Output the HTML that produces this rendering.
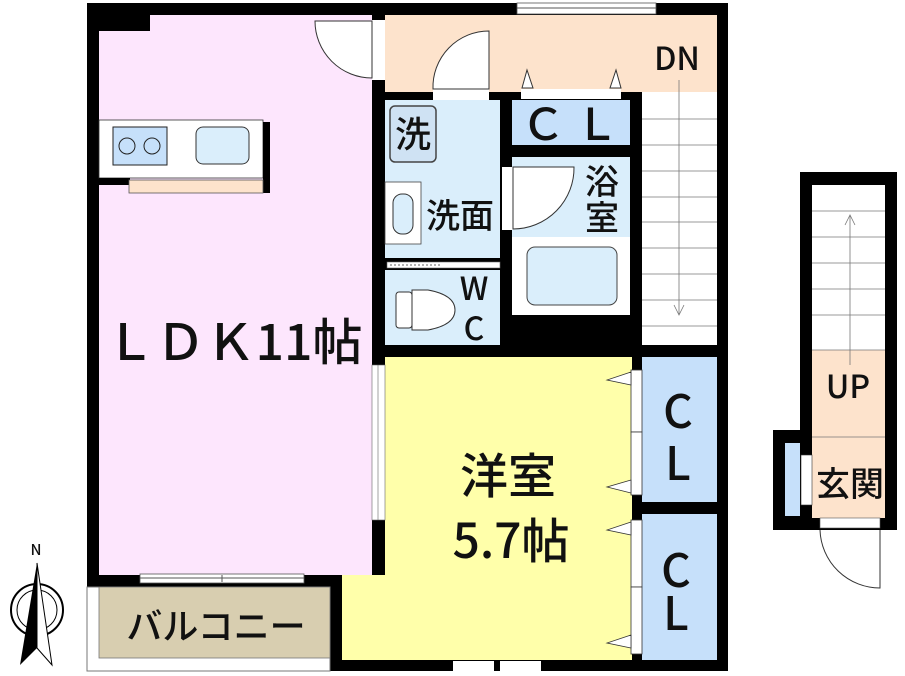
<!DOCTYPE html>
<html><head><meta charset="utf-8"><style>
html,body{margin:0;padding:0;background:#fff;width:905px;height:676px;overflow:hidden}
text{font-family:"Noto Sans CJK JP","Liberation Sans",sans-serif;fill:#111;font-weight:500}
</style></head><body>
<svg width="905" height="676" viewBox="0 0 905 676" xmlns="http://www.w3.org/2000/svg">
<rect x="87" y="3" width="641" height="584" fill="#000"/>
<rect x="330" y="575" width="398" height="96" fill="#000"/>
<rect x="99" y="15" width="273" height="560" fill="#fde6fd"/>
<rect x="99" y="15" width="51" height="16" fill="#000"/>
<rect x="99" y="120" width="164" height="58" fill="#fff" stroke="#333" stroke-width="0.8"/>
<rect x="263" y="122" width="7" height="71" fill="#000"/>
<rect x="99" y="178" width="31" height="7" fill="#000"/>
<rect x="129" y="180" width="134" height="13" fill="#fde3cc" stroke="#555" stroke-width="0.8"/>
<rect x="113" y="127" width="54" height="38" fill="#c6e0fa" stroke="#222"/>
<circle cx="127" cy="146" r="8" fill="none" stroke="#222"/>
<circle cx="152" cy="146" r="8" fill="none" stroke="#222"/>
<rect x="196" y="127" width="53" height="37" rx="7" fill="#daeefb" stroke="#333"/>
<rect x="372" y="20" width="13" height="60" fill="#fff"/>
<path d="M315 21 L372 21 L372 78 A57 57 0 0 1 315 21Z" fill="#fff" stroke="#333"/>
<rect x="385" y="15" width="332" height="77" fill="#fde3cc"/>
<rect x="517" y="3" width="139" height="11" fill="#fff" stroke="#555" stroke-width="0.8"/>
<line x1="517" y1="8" x2="656" y2="8" stroke="#555"/>
<rect x="642" y="92" width="75" height="253" fill="#fff"/>
<g stroke="#777" stroke-width="0.8">
<line x1="642" y1="119" x2="717" y2="119"/><line x1="642" y1="145" x2="717" y2="145"/>
<line x1="642" y1="171" x2="717" y2="171"/><line x1="642" y1="197" x2="717" y2="197"/>
<line x1="642" y1="222" x2="717" y2="222"/><line x1="642" y1="248" x2="717" y2="248"/>
<line x1="642" y1="274" x2="717" y2="274"/><line x1="642" y1="300" x2="717" y2="300"/>
<line x1="642" y1="326" x2="717" y2="326"/>
<line x1="679" y1="80" x2="679" y2="315"/>
<polyline points="674,305 679,315 684,305" fill="none"/>
</g>
<text x="677" y="70" font-size="32" text-anchor="middle">DN</text>
<rect x="385" y="100" width="115" height="158" fill="#daeefb"/>
<rect x="433" y="88" width="56" height="12" fill="#fff"/>
<path d="M433 89 A56 56 0 0 1 489 31 L489 89Z" fill="#fff" stroke="#333"/>
<rect x="390" y="106" width="46" height="56" rx="5" fill="#cfe2f3" stroke="#444" stroke-width="1.5"/>
<text x="413" y="147" font-size="36" text-anchor="middle">洗</text>
<rect x="385" y="182" width="36" height="62" fill="#fff" stroke="#444" stroke-width="0.8"/>
<rect x="393" y="194" width="20" height="40" rx="9" fill="#daeefb" stroke="#333"/>
<text x="460" y="228" font-size="34" text-anchor="middle">洗面</text>
<rect x="512" y="100" width="118" height="45" fill="#c6e0fa"/>
<rect x="521" y="89" width="100" height="10" fill="#fff"/>
<path d="M522 88 L527 70 L533 88Z M610 88 L616 70 L621 88Z" fill="#fff" stroke="#333"/>
<text x="570" y="140" font-size="44" text-anchor="middle">Ｃ Ｌ</text>
<rect x="512" y="157" width="118" height="80" fill="#daeefb"/>
<rect x="512" y="237" width="118" height="78" fill="#fff"/>
<rect x="527" y="247" width="90" height="58" rx="8" fill="#daeefb" stroke="#444"/>
<rect x="502" y="167" width="11" height="63" fill="#fff"/>
<path d="M513 167 L574 167 A61 61 0 0 1 513 229Z" fill="#fff" stroke="#333"/>
<text x="602" y="194" font-size="34" text-anchor="middle">浴</text>
<text x="602" y="230" font-size="34" text-anchor="middle">室</text>
<rect x="385" y="270" width="115" height="75" fill="#daeefb"/>
<rect x="387" y="262" width="113" height="6" fill="#fff" stroke="#666" stroke-width="0.6"/>
<line x1="390" y1="265" x2="442" y2="265" stroke="#666" stroke-dasharray="2 2"/>
<rect x="396" y="292" width="16" height="36" rx="3" fill="#fff" stroke="#333"/>
<path d="M412 290 L428 290 Q455 295 455 310 Q455 325 428 330 L412 330Z" fill="#fff" stroke="#333"/>
<text x="474" y="300" font-size="32" text-anchor="middle">W</text>
<text x="474" y="340" font-size="32" text-anchor="middle">C</text>
<rect x="385" y="357" width="247" height="303" fill="#ffffaa"/>
<rect x="342" y="575" width="50" height="85" fill="#ffffaa"/>
<rect x="372" y="365" width="13" height="155" fill="#fff" stroke="#666" stroke-width="0.6"/>
<line x1="378" y1="365" x2="378" y2="520" stroke="#666" stroke-width="0.6"/>
<text x="508" y="493" font-size="48" text-anchor="middle">洋室</text>
<text x="511" y="558" font-size="48" text-anchor="middle">5.7帖</text>
<text x="234" y="360" font-size="50" text-anchor="middle">ＬＤＫ11帖</text>
<rect x="642" y="357" width="75" height="145" fill="#c6e0fa"/>
<rect x="642" y="514" width="75" height="146" fill="#c6e0fa"/>
<g fill="#fff" stroke="#333" stroke-width="0.8">
<rect x="631" y="370" width="11" height="62"/><rect x="631" y="432" width="11" height="63"/>
<rect x="631" y="520" width="11" height="67"/><rect x="631" y="587" width="11" height="67"/>
<path d="M631 372 L607 380 L631 385Z M631 480 L607 487 L631 493Z M631 522 L607 530 L631 535Z M631 635 L607 643 L631 648Z"/>
</g>
<text x="678" y="428" font-size="46" text-anchor="middle">C</text>
<text x="678" y="480" font-size="46" text-anchor="middle">L</text>
<text x="676" y="587" font-size="46" text-anchor="middle">C</text>
<text x="676" y="630" font-size="46" text-anchor="middle">L</text>
<rect x="87" y="587" width="243" height="84" fill="#fff" stroke="#777"/>
<rect x="99" y="587" width="231" height="71" fill="#d8ceb0" stroke="#777" stroke-width="0.8"/>
<rect x="140" y="574" width="164" height="9" fill="#fff" stroke="#555" stroke-width="0.8"/>
<line x1="140" y1="578" x2="304" y2="578" stroke="#555"/>
<line x1="222" y1="575" x2="222" y2="582" stroke="#555"/>
<text x="216" y="639" font-size="36" text-anchor="middle">バルコニー</text>
<rect x="453" y="661" width="88" height="10" fill="#fff"/>
<line x1="497" y1="661" x2="497" y2="671" stroke="#000" stroke-width="6"/>
<rect x="800" y="172" width="97" height="358" fill="#000"/>
<rect x="773" y="430" width="40" height="100" fill="#000"/>
<rect x="812" y="185" width="73" height="165" fill="#fff"/>
<rect x="812" y="350" width="73" height="168" fill="#fde3cc"/>
<g stroke="#777" stroke-width="0.8">
<line x1="812" y1="211" x2="885" y2="211"/><line x1="812" y1="237" x2="885" y2="237"/>
<line x1="812" y1="263" x2="885" y2="263"/><line x1="812" y1="289" x2="885" y2="289"/>
<line x1="812" y1="315" x2="885" y2="315"/><line x1="812" y1="350" x2="885" y2="350"/>
<line x1="812" y1="437" x2="885" y2="437"/>
<line x1="850" y1="215" x2="850" y2="365"/>
<polyline points="845,225 850,215 855,225" fill="none"/>
</g>
<rect x="785" y="443" width="15" height="73" fill="#c6e0fa"/>
<rect x="801" y="455" width="11" height="50" fill="#fff" stroke="#333" stroke-width="0.6"/>
<text x="848" y="398" font-size="32" text-anchor="middle">UP</text>
<text x="850" y="496" font-size="34" text-anchor="middle">玄関</text>
<rect x="820" y="518" width="60" height="10" fill="#fff" stroke="#555" stroke-width="0.6"/>
<path d="M820 530 A60 60 0 0 0 880 588 L880 530" fill="none" stroke="#333"/>
<text x="36" y="555" font-size="15" text-anchor="middle">N</text>
<circle cx="37" cy="610" r="26" fill="none" stroke="#000" stroke-width="2"/>
<circle cx="37" cy="610" r="20" fill="none" stroke="#000" stroke-width="1"/>
<path d="M37 563 L20 665 L37 648Z" fill="#000"/>
<path d="M37 563 L52 665 L37 648Z" fill="#fff" stroke="#000"/>
</svg>
</body></html>
